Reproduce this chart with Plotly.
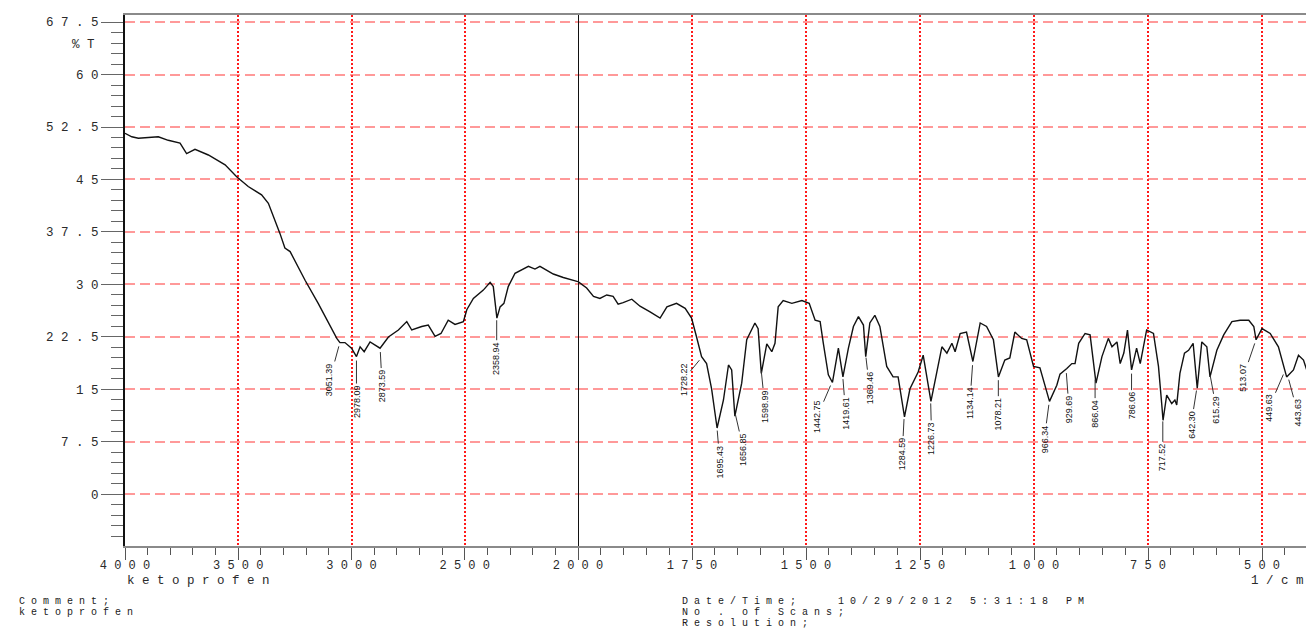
import numpy as np
import plotly.graph_objects as go

# ---------------- data ----------------
wavenumber = [
    4000, 3970, 3941, 3900, 3853, 3809, 3757, 3728, 3691, 3632, 3558, 3507, 3456, 3397, 3367,
    3316, 3294, 3271, 3205, 3147, 3102, 3065, 3051, 3029, 3000, 2978, 2962, 2944, 2918, 2874,
    2837, 2793, 2756, 2734, 2690, 2661, 2631, 2605, 2573, 2543, 2506, 2491, 2462, 2418, 2388,
    2374, 2358, 2344, 2327, 2308, 2278, 2248, 2219, 2190, 2168, 2109, 2065, 2000,
    1996, 1981, 1966, 1952, 1937, 1923, 1912, 1901, 1882, 1864, 1842, 1820, 1805, 1784, 1765,
    1751, 1740, 1729, 1718, 1707, 1695, 1681, 1670, 1663, 1656, 1641, 1630, 1612, 1605, 1598,
    1586, 1575, 1568, 1561, 1550, 1531, 1509, 1493, 1480, 1469, 1462, 1451, 1442, 1429, 1419,
    1407, 1396, 1385, 1374, 1369, 1360, 1349, 1338, 1323, 1309, 1298, 1284, 1272, 1254, 1243,
    1226, 1213, 1202, 1191, 1180, 1173, 1162, 1148, 1134, 1118, 1104, 1089, 1078, 1064, 1053,
    1042, 1027, 1016, 1001, 987, 966, 950, 943, 928, 917, 910, 902, 888, 877, 864,
    851, 837, 829, 818, 811, 803, 795, 786, 775, 767, 753, 738, 727, 720, 717,
    709, 698, 691, 687, 680, 670, 661, 651, 642, 632, 621, 614, 599, 584, 566,
    548, 529, 518, 513, 500, 482, 464, 446, 431, 420, 409, 402,
]
transmittance = [
    51.6, 51.1, 50.9, 51.0, 51.1, 50.6, 50.2, 48.7, 49.3, 48.5, 47.1, 45.4, 44.0, 42.8, 41.6,
    37.3, 35.2, 34.7, 30.6, 27.3, 24.5, 22.3, 21.7, 21.7, 20.9, 19.7, 21.1, 20.4, 21.8, 20.9,
    22.5, 23.5, 24.7, 23.5, 24.0, 24.2, 22.6, 23.0, 24.9, 24.3, 24.7, 26.4, 28.0, 29.2, 30.3,
    29.7, 25.2, 26.8, 27.3, 29.7, 31.6, 32.1, 32.6, 32.2, 32.6, 31.5, 31.0, 30.4,
    30.2, 29.5, 28.3, 28.0, 28.5, 28.3, 27.2, 27.4, 27.9, 26.9, 26.1, 25.2, 26.8, 27.3, 26.6,
    25.2, 22.5, 19.7, 18.7, 15.1, 9.5, 13.5, 18.5, 17.8, 11.2, 15.9, 22.1, 24.5, 23.7, 17.3,
    21.5, 20.4, 21.6, 26.8, 27.7, 27.3, 27.7, 27.3, 24.9, 24.7, 21.6, 17.1, 16.0, 20.9, 16.8,
    20.9, 24.0, 25.4, 24.2, 19.7, 24.5, 25.6, 24.0, 18.3, 16.8, 16.8, 11.1, 15.1, 17.5, 19.9,
    13.3, 17.8, 21.1, 20.2, 21.6, 20.4, 23.0, 23.2, 19.0, 24.5, 24.0, 22.1, 16.8, 19.2, 19.5,
    23.2, 22.3, 22.1, 18.3, 18.1, 13.3, 15.6, 17.2, 18.0, 18.7, 18.7, 21.6, 23.0, 22.8, 15.9,
    19.7, 22.3, 21.1, 21.8, 18.7, 20.2, 23.5, 17.8, 20.9, 18.7, 23.5, 23.0, 18.3, 13.0, 10.6,
    14.2, 13.0, 13.5, 12.8, 17.3, 20.2, 20.6, 21.6, 15.2, 21.8, 21.1, 16.8, 20.6, 22.8, 24.7,
    24.9, 24.9, 24.0, 22.1, 23.7, 23.0, 21.1, 16.8, 17.8, 19.9, 19.2, 17.8,
]

peak_labels = [
    "3051.39", "2978.09", "2873.59", "2358.94", "1728.22", "1695.43", "1656.85", "1598.99",
    "1442.75", "1419.61", "1369.46", "1284.59", "1226.73", "1134.14", "1078.21", "966.34",
    "929.69", "866.04", "786.06", "717.52", "642.30", "615.29", "513.07", "449.63", "443.63",
]
# pixel offsets of each label from its peak (layout only)
label_offsets = [
    (-10, 37), (0, 45), (2, 38), (0, 42), (-18, 22), (3, 35), (9, 39), (4, 39),
    (-15, 35), (3, 38), (4, 34), (-2, 39), (1, 39), (-3, 42), (0, 38), (-5, 38),
    (3, 40), (0, 38), (0, 36), (0, 40), (-6, 38), (7, 38), (-13, 38), (-16, 37), (10, 37),
]

y_ticks = [0, 7.5, 15, 22.5, 30, 37.5, 45, 52.5, 60, 67.5]
x_left_ticks = [4000, 3500, 3000, 2500, 2000]
x_right_ticks = [1750, 1500, 1250, 1000, 750, 500]

# ---------------- helpers ----------------
NB = "\u00a0"


def spaced(s):
    return NB.join(s.replace(" ", NB))


def fmt(v):
    return str(int(v)) if float(v).is_integer() else str(v)


w = np.array(wavenumber, dtype=float)
t = np.array(transmittance, dtype=float)
left = w >= 2000
right = w <= 2000

MONO = "Liberation Mono, DejaVu Sans Mono, monospace"
TICKFONT = dict(family=MONO, size=12.5, color="#2a2a2a")
XTICKFONT = dict(family=MONO, size=12, color="#2a2a2a")
GRID_V = "#ff1a1a"
GRID_H = "rgba(255,70,70,0.55)"

fig = go.Figure()
fig.add_trace(go.Scatter(x=w[left], y=t[left], mode="lines", xaxis="x", yaxis="y",
                         line=dict(color="#111111", width=1.4), showlegend=False,
                         hoverinfo="skip"))
fig.add_trace(go.Scatter(x=w[right], y=t[right], mode="lines", xaxis="x2", yaxis="y",
                         line=dict(color="#111111", width=1.4), showlegend=False,
                         hoverinfo="skip"))

split = 453 / 1181

common_x = dict(
    showline=True, linecolor="#8a8a8a", linewidth=1.5, mirror=True,
    ticks="outside", ticklen=12, tickwidth=1.2, tickcolor="#555555",
    showgrid=True, gridcolor=GRID_V, gridwidth=2, griddash="2px,2px",
    zeroline=False, tickfont=XTICKFONT, tickmode="array", automargin=False,
    ticklabelstandoff=-5,
)

fig.update_layout(
    width=1306, height=628, autosize=False,
    margin=dict(l=125, r=0, t=15, b=82, autoexpand=False),
    paper_bgcolor="white", plot_bgcolor="white",
    xaxis=dict(domain=[0, split], range=[4000, 2000], anchor="y",
               tickvals=x_left_ticks, ticktext=[spaced(fmt(v)) for v in x_left_ticks],
               minor=dict(tickmode="linear", tick0=0, dtick=100, ticks="outside",
                          ticklen=7, tickcolor="#555555", showgrid=False),
               **common_x),
    xaxis2=dict(domain=[split, 1], range=[2000, 403.5], anchor="y",
                tickvals=x_right_ticks, ticktext=[spaced(fmt(v)) for v in x_right_ticks],
                minor=dict(tickmode="linear", tick0=0, dtick=50, ticks="outside",
                           ticklen=7, tickcolor="#555555", showgrid=False),
                **common_x),
    yaxis=dict(range=[-7.36, 68.5], tickmode="array", tickvals=y_ticks,
               ticktext=[spaced(fmt(v)) for v in y_ticks], automargin=False,
               showline=True, linecolor="#111111", linewidth=2,
               ticks="outside", ticklen=22, tickwidth=1.2, tickcolor="#666666",
               minor=dict(tickmode="linear", tick0=0, dtick=1.5, ticks="outside",
                          ticklen=12, tickcolor="#666666", showgrid=False),
               showgrid=True, gridcolor=GRID_H, gridwidth=1.5, griddash="10px,5px",
               zeroline=False, tickfont=TICKFONT),
)

# black separator at 2000 1/cm
fig.add_shape(type="line", xref="x2", yref="paper", x0=2000, x1=2000, y0=0, y1=1,
              line=dict(color="#111111", width=2))

# peak labels
w_rev = w[::-1]
t_rev = t[::-1]
for lab, (dx, dy) in zip(peak_labels, label_offsets):
    pw = float(lab)
    py = float(np.interp(pw, w_rev, t_rev))
    fig.add_annotation(
        x=pw, y=py, xref="x" if pw >= 2000 else "x2", yref="y",
        text=lab, textangle=-90, showarrow=True, arrowhead=0, arrowwidth=1,
        arrowcolor="#333333", ax=dx, ay=dy, standoff=4,
        font=dict(family="Liberation Sans Narrow, Liberation Sans, Arial", size=9,
                  color="#111111"),
    )

# axis texts
fig.add_annotation(xref="paper", yref="y", x=-0.0237, y=64.2,
                   text=spaced("%T"), showarrow=False, xanchor="right", yanchor="middle",
                   font=TICKFONT)
fig.add_annotation(xref="paper", yref="paper", x=0, y=-0.0655, text=spaced("ketoprofen"),
                   showarrow=False, xanchor="left", yanchor="middle",
                   font=dict(family=MONO, size=12.5, color="#2a2a2a"))
fig.add_annotation(xref="paper", yref="paper", x=1, y=-0.0655, text=spaced("1/cm"),
                   showarrow=False, xanchor="right", yanchor="middle",
                   font=dict(family=MONO, size=12.5, color="#2a2a2a"))

SMALL = dict(family=MONO, size=10, color="#1a1a1a")
footer = [
    (-0.0914, -0.1036, "Comment;"),
    (-0.0914, -0.1243, "ketoprofen"),
    (0.470, -0.1036, "Date/Time;   10/29/2012 5:31:18 PM"),
    (0.470, -0.1243, "No . of Scans;"),
    (0.470, -0.1460, "Resolution;"),
]
for fx, fy, txt in footer:
    fig.add_annotation(xref="paper", yref="paper", x=fx, y=fy, text=spaced(txt),
                       showarrow=False, xanchor="left", yanchor="middle", font=SMALL)

fig.write_html("out.html")
